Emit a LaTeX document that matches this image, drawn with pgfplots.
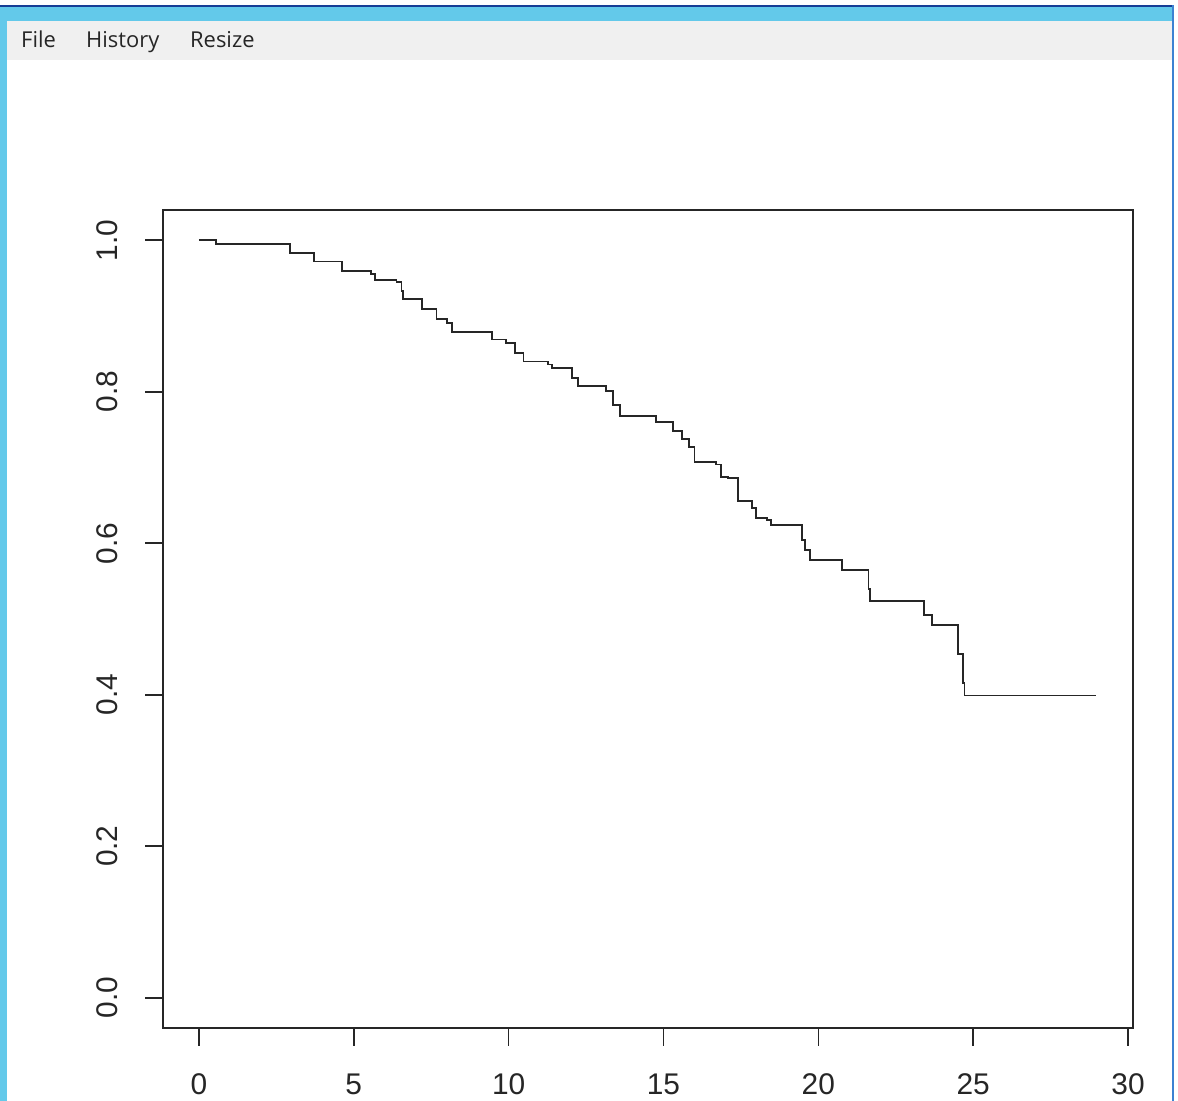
\documentclass[border=0pt]{standalone}
\usepackage{pgfplots}
\pgfplotsset{compat=1.18}
\usepackage{fontspec}
\setmainfont{Liberation Sans}
\newfontfamily\menufont{Open Sans}
\definecolor{winblue}{RGB}{99,201,234}
\definecolor{menugray}{RGB}{240,240,240}
\definecolor{windark}{RGB}{22,62,150}
\definecolor{winedge}{RGB}{60,130,210}
\begin{document}
\begin{tikzpicture}[x=1bp,y=1bp]
\useasboundingbox (0,0) rectangle (1178,1101);
\fill[white] (0,0) rectangle (1178,1101);
\fill[winblue] (0,1080) rectangle (1172,1095);
\fill[winblue] (0,0) rectangle (7,1095);
\fill[menugray] (7,1041) rectangle (1172,1080);
\fill[windark] (0,1094) rectangle (1174,1096);
\fill[winedge] (1172,0) rectangle (1174,1096);
\node[anchor=base west, font=\menufont\fontsize{22}{26}\selectfont, inner sep=0, text=black!85] at (21,1053) {File};
\node[anchor=base west, font=\menufont\fontsize{22}{26}\selectfont, inner sep=0, text=black!85] at (86,1053) {History};
\node[anchor=base west, font=\menufont\fontsize{22}{26}\selectfont, inner sep=0, text=black!85] at (190,1053) {Resize};
\begin{axis}[
  at={(163bp,73bp)}, anchor=south west,
  scale only axis, width=970bp, height=818bp,
  xmin=-1.16, xmax=30.16, ymin=-0.04, ymax=1.04,
  xtick={0,5,10,15,20,25,30},
  ytick={0,0.2,0.4,0.6,0.8,1},
  xtick pos=left, ytick pos=left,
  tick align=outside, major tick length=18bp,
  axis line style={line width=1.4bp, black!85},
  tick style={line width=1.6bp, black!85},
  /pgf/number format/assume math mode=true,
  tick label style={font=\fontsize{30}{36}\selectfont, text=black!85},
  xticklabel style={anchor=north},
  yticklabel style={rotate=90, anchor=south, /pgf/number format/.cd, fixed, fixed zerofill, precision=1},
  xticklabel shift=24bp, yticklabel shift=24bp,
]
\addplot[const plot, line width=1.9bp, black!85] coordinates {
(0,1.0)
(0.54,0.9956)
(2.93,0.983)
(3.72,0.972)
(4.62,0.960)
(5.57,0.956)
(5.68,0.947)
(6.38,0.945)
(6.54,0.933)
(6.60,0.922)
(7.19,0.909)
(7.67,0.896)
(8.00,0.891)
(8.16,0.879)
(9.45,0.869)
(9.91,0.864)
(10.21,0.851)
(10.48,0.840)
(11.28,0.836)
(11.39,0.831)
(12.04,0.818)
(12.23,0.808)
(13.14,0.801)
(13.38,0.782)
(13.60,0.768)
(14.75,0.760)
(15.32,0.748)
(15.59,0.738)
(15.81,0.727)
(16.00,0.707)
(16.70,0.704)
(16.87,0.688)
(17.08,0.686)
(17.40,0.656)
(17.86,0.646)
(17.99,0.633)
(18.34,0.631)
(18.48,0.624)
(19.48,0.604)
(19.58,0.591)
(19.72,0.578)
(20.77,0.565)
(21.62,0.540)
(21.67,0.524)
(23.42,0.505)
(23.68,0.492)
(24.51,0.454)
(24.67,0.416)
(24.72,0.399)
(28.98,0.399)
};
\end{axis}
\end{tikzpicture}
\end{document}
